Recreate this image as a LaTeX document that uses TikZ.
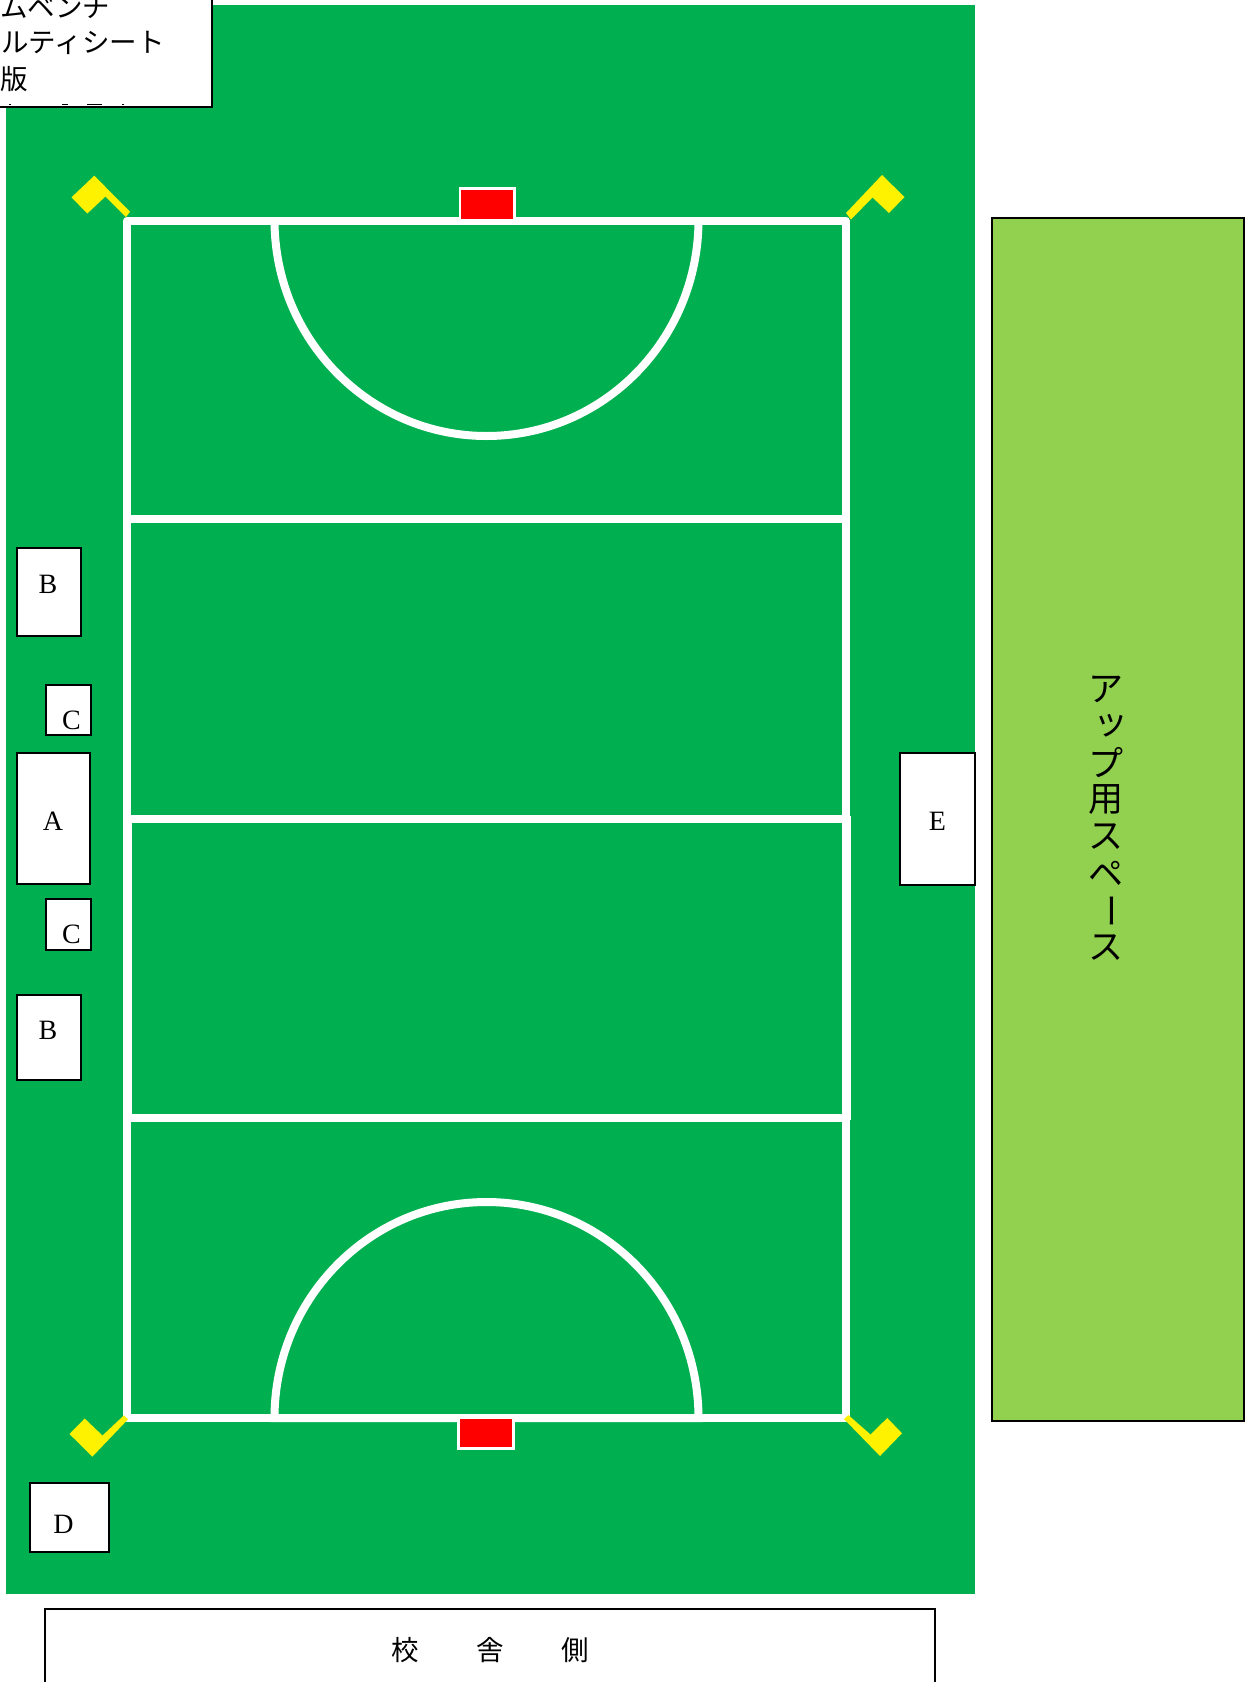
\documentclass[tikz,border=0pt]{standalone}
\usepackage{fontspec}
\setmainfont{Liberation Serif}
\newfontfamily\cjk{Noto Sans CJK JP}
\definecolor{pitch}{HTML}{00B050}
\definecolor{upzone}{HTML}{92D050}
\tikzset{
    benchbox/.style={draw=black, fill=white, line width=2pt},
    letter/.style={font=\fontsize{28}{28}\selectfont, inner sep=0pt},
    jp/.style={font=\fontsize{27.5}{28}\selectfont\cjk, inner sep=0pt},
    upjp/.style={font=\fontsize{35}{35}\selectfont\cjk, inner sep=0pt},
    courtline/.style={draw=white, line width=8pt},
    goalbox/.style={draw=white, fill=red, line width=2.5pt},
    cornerflag/.style={fill=yellow},
}
\begin{document}
\begin{tikzpicture}[x=1pt, y=-1pt]
    \useasboundingbox (0, 0) rectangle (1255, 1682);

    % 地面
    \fill[pitch] (6, 5) rectangle (975, 1594);
    \draw[fill=upzone, line width=2pt] (992, 218) rectangle (1244, 1421);

    % コート
    \draw[courtline, line join=round] (127, 220.5) rectangle (845.5, 1417.5);
    \foreach \y in {519, 818.5, 1118} {
        \draw[courtline] (127, \y) -- (845.5, \y);
    }
    \draw[courtline] (847, 816) -- (847, 1120);
    \draw[courtline] (128, 816) -- (128, 1120);
    \draw[courtline] (274.5, 220) arc[start angle=180, end angle=360, x radius=212, y radius=-216];
    \draw[courtline] (274.5, 1418) arc[start angle=180, end angle=0, x radius=212, y radius=-216] -- cycle;

    % ゴール
    \draw[goalbox] (460, 188.5) rectangle (514.5, 220);
    \draw[goalbox] (458.5, 1417.5) rectangle (513.5, 1448.5);

    % コーナーフラッグ
    \fill[cornerflag] (94.3, 175.7) -- (71.5, 197.3) -- (87.3, 213.5) -- (105.5, 196.5) -- (126, 217) -- (130, 211.7) -- cycle;
    \fill[cornerflag] (882, 175) -- (904.5, 197) -- (889, 213) -- (872.5, 197.5) -- (851, 219.5) -- (846, 213) -- cycle;
    \fill[cornerflag] (84.7, 1418.5) -- (69.5, 1434) -- (92.3, 1456.7) -- (128, 1419.3) -- (124, 1415.3) -- (102.5, 1435.5) -- cycle;
    \fill[cornerflag] (848.3, 1415) -- (844, 1419) -- (880, 1456) -- (902, 1433.3) -- (887.3, 1418) -- (870.5, 1434.5) -- cycle;

    % ベンチ
    \draw[benchbox] (16.5, 548) rectangle (80.5, 636);
    \draw[benchbox] (45.5, 684.5) rectangle (91, 734.5);
    \draw[benchbox] (16.5, 753) rectangle (90, 884);
    \draw[benchbox] (45.5, 899) rectangle (91, 950);
    \draw[benchbox] (16.5, 994.5) rectangle (80.5, 1080);
    \draw[benchbox] (900, 752.5) rectangle (974.5, 884.5);
    \draw[benchbox] (29.5, 1483) rectangle (108.5, 1552);
    \draw[benchbox] (45, 1608.5) rectangle (934.5, 1700);

    \node[letter] (benchBa) at (48, 584) {B};
    \node[letter] (benchCa) at (71.5, 720) {C};
    \node[letter] (benchA) at (53, 821) {A};
    \node[letter] (benchCb) at (71.5, 934) {C};
    \node[letter] (benchBb) at (48, 1030) {B};
    \node[letter] (benchE) at (937.5, 821) {E};
    \node[letter] (benchD) at (63.5, 1524) {D};

    % 校舎側
    \node[jp] (schoolA) at (405.5, 1650) {校};
    \node[jp] (schoolB) at (490.5, 1650) {舎};
    \node[jp] (schoolC) at (575, 1650) {側};

    % アップ用スペース（縦書き）
    \foreach \c/\k in {ア/0, プ/2, 用/3, ス/4, ペ/5, ス/7} {
        \node[upjp] (up\k) at (1106, 689 + 37*\k) {\c};
    }
    \node[upjp] (up1) at (1111, 726) {ッ};
    \node[upjp, rotate=-90] (up6) at (1106, 911) {ー};

    % 左上の札（上と左が切れている）
    \draw[benchbox] (-10, -10) rectangle (212, 107);
    \begin{scope}
        \clip (0, 0) rectangle (210, 105);
        \node[jp, anchor=west] (noteA) at (0, 7) {ムベンチ};
        \node[jp, anchor=west] (noteB) at (1, 43) {ルティシート};
        \node[jp, anchor=west] (noteC) at (0, 79) {版};
        % 四行目は上端だけ見える
        \foreach \a/\b in {9/11, 62/68, 87/102, 122/124} {
            \draw[line width=1pt] (\a, 104) -- (\b, 104);
        }
    \end{scope}
\end{tikzpicture}
\end{document}
